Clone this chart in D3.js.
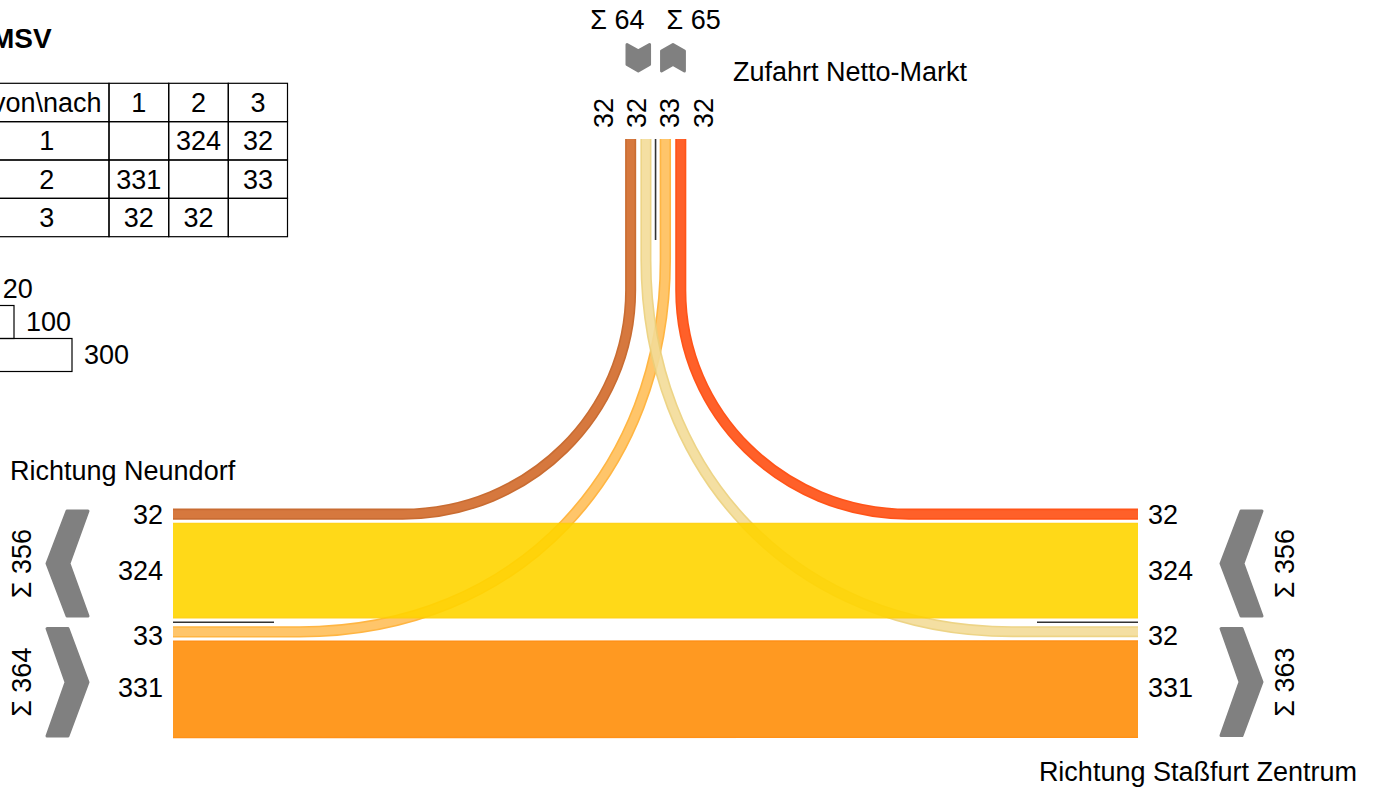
<!DOCTYPE html>
<html><head><meta charset="utf-8">
<script src="https://cdn.jsdelivr.net/npm/d3@7"></script>
<style>html,body{margin:0;padding:0;background:#fff;overflow:hidden}</style>
</head><body>
<svg id="c" width="1375" height="792"></svg>
<script>
// ---------------- data ----------------
const title = "MSV";
const nodes = ["1", "2", "3"];
const armNames = { "1": "Richtung Staßfurt Zentrum", "2": "Richtung Neundorf", "3": "Zufahrt Netto-Markt" };
// rows = von, cols = nach
const matrix = [
  [null, 324, 32],
  [331, null, 33],
  [32, 32, null]
];
const tableHeader = ["von\\nach", "1", "2", "3"];
const legendValues = [20, 100, 300];

// ---------------- style ----------------
const flowStyle = {
  "1-2": { fill: "#ffd500", edge: "#ffcf00" },
  "2-1": { fill: "#ff8f0a", edge: "#ff8600" },
  "1-3": { fill: "#ff4f12", edge: "#ff4200" },
  "3-1": { fill: "#f3dc98", edge: "#ecd07a" },
  "2-3": { fill: "#ffbf5a", edge: "#ffae2e" },
  "3-2": { fill: "#d26a2a", edge: "#c45d1c" }
};
const FONT = "'Liberation Sans', Arial, sans-serif";
const FS = 27;
const GRAY = "#808080";

const svg = d3.select("#c");
const w = d3.scaleLinear().domain([0, 300]).range([0, 87]);
const val = (a, b) => matrix[nodes.indexOf(a)][nodes.indexOf(b)];

// lane order of each arm (groups split by direction)
const arms = {
  left:  { node: "2", groups: [[["3","2"],["1","2"]], [["2","3"],["2","1"]]], start: 509.5, gap: 4.8, sep: 9.5 },
  right: { node: "1", groups: [[["1","3"],["1","2"]], [["3","1"],["2","1"]]], start: 509.5, gap: 4.8, sep: 9.5 },
  top:   { node: "3", groups: [[["3","2"],["3","1"]], [["2","3"],["1","3"]]], start: 626, gap: 6, sep: 10 }
};
function layoutLanes(arm) {
  let pos = arm.start; const lanes = {}; const ext = [];
  arm.groups.forEach((g, gi) => {
    if (gi > 0) pos += arm.sep;
    const g0 = pos;
    g.forEach((f, i) => {
      if (i > 0) pos += arm.gap;
      const v = val(f[0], f[1]); const ww = w(v);
      lanes[f.join("-")] = { a: pos, w: ww, c: pos + ww / 2, v, group: gi };
      pos += ww;
    });
    ext.push([g0, pos]);
  });
  arm.lanes = lanes; arm.ext = ext;
  arm.sepPos = (ext[0][1] + ext[1][0]) / 2;
}
Object.values(arms).forEach(layoutLanes);

const X_LEFT = 173, X_RIGHT = 1138, Y_TOP = 139;

// ---------------- flows ----------------
function turnPath(xs, ys, xt, near) {
  const dir = Math.sign(xt - xs);
  const p = d3.path();
  p.moveTo(xs, ys);
  if (near) {
    const rx = 228, ry = 224, k = 0.5523;
    const xh = xt - dir * rx, yv = ys - ry;
    p.lineTo(xh, ys);
    p.bezierCurveTo(xh + dir * rx * k, ys, xt, yv + ry * k, xt, yv);
  } else {
    const xh = xt - dir * 366, yv = ys - 372;
    p.lineTo(xh, ys);
    p.bezierCurveTo(xt - dir * 146, ys, xt, ys - 162, xt, yv);
  }
  p.lineTo(xt, Y_TOP);
  return p.toString();
}
function flowGeom(key) {
  const [a, b] = key.split("-");
  if (a !== "3" && b !== "3") {
    const L = arms.left.lanes[key], R = arms.right.lanes[key];
    return { d: `M${X_LEFT},${L.c}L${X_RIGHT},${R.c}`, w: L.w };
  }
  const side = (a === "2" || b === "2") ? "left" : "right";
  const sl = arms[side].lanes[key], tl = arms.top.lanes[key];
  const xs = side === "left" ? X_LEFT : X_RIGHT;
  return { d: turnPath(xs, sl.c, tl.c, sl.group === 0), w: sl.w };
}
const drawOrder = ["2-3", "3-1", "3-2", "1-3", "2-1", "1-2"];
const flowG = svg.append("g");
drawOrder.forEach(key => {
  const g = flowG.append("g").attr("opacity", 0.9);
  const geo = flowGeom(key);
  g.append("path").attr("d", geo.d).attr("fill", "none")
    .attr("stroke", flowStyle[key].edge).attr("stroke-width", geo.w + 1.8);
  g.append("path").attr("d", geo.d).attr("fill", "none")
    .attr("stroke", flowStyle[key].fill).attr("stroke-width", Math.max(1, geo.w - 1.4));
});

// separators
const sepColor = "#333";
svg.append("line").attr("x1", arms.top.sepPos).attr("x2", arms.top.sepPos)
  .attr("y1", Y_TOP).attr("y2", Y_TOP + 101).attr("stroke", sepColor).attr("stroke-width", 1.6);
svg.append("line").attr("x1", X_LEFT).attr("x2", X_LEFT + 101)
  .attr("y1", arms.left.sepPos).attr("y2", arms.left.sepPos).attr("stroke", sepColor).attr("stroke-width", 1.6);
svg.append("line").attr("x1", X_RIGHT - 101).attr("x2", X_RIGHT)
  .attr("y1", arms.right.sepPos).attr("y2", arms.right.sepPos).attr("stroke", sepColor).attr("stroke-width", 1.6);

// ---------------- chevrons ----------------
const chevLine = d3.line();
function drawPoly(pts) {
  svg.append("path").attr("d", chevLine(pts) + "Z").attr("fill", GRAY)
    .attr("stroke", GRAY).attr("stroke-width", 3).attr("stroke-linejoin", "round");
}
function sideChevron(xL, y0, y1, pointLeft) {
  const t = 21, d = 20, xR = xL + t + d, ym = (y0 + y1) / 2;
  y0 += 1.5; y1 -= 1.5;
  if (pointLeft) drawPoly([[xR - t, y0], [xR, y0], [xR - d + 1, ym], [xR, y1], [xR - t, y1], [xL, ym]]);
  else drawPoly([[xL, y0], [xL + t, y0], [xR, ym], [xL + t, y1], [xL, y1], [xL + d - 1, ym]]);
}
function topChevron(x0, x1, down) {
  const yA = 44.5, t = 20, xm = (x0 + x1) / 2, d = Math.min(21, (x1 - x0) / 2 * 0.52);
  x0 += 1; x1 -= 1;
  if (down) drawPoly([[x0, yA], [xm, yA + d], [x1, yA], [x1, yA + t], [xm, yA + t + d], [x0, yA + t]]);
  else drawPoly([[x0, yA + d], [xm, yA], [x1, yA + d], [x1, yA + t + d], [xm, yA + t], [x0, yA + t + d]]);
}
const chevW = 43, chevOff = 83;
arms.left.ext.forEach((e, i) => sideChevron(X_LEFT - chevOff - chevW, e[0], e[1], i === 0));
arms.right.ext.forEach((e, i) => sideChevron(X_RIGHT + chevOff, e[0], e[1], i === 0));
arms.top.ext.forEach((e, i) => topChevron(e[0], e[1], i === 0));

// ---------------- labels ----------------
function txt(x, y, s, anchor, opts = {}) {
  const t = svg.append("text").attr("x", x).attr("y", y).attr("dy", "0.35em")
    .attr("text-anchor", anchor || "start").attr("font-family", FONT)
    .attr("font-size", opts.size || FS).attr("fill", "#000").text(s);
  if (opts.bold) t.attr("font-weight", "bold");
  if (opts.rotate) t.attr("transform", `rotate(-90,${x},${y})`);
  return t;
}
function spread(vals, gap) {
  let cl = vals.map(v => ({ s: v, n: 1 }));
  const st = c => c.s / c.n - (c.n - 1) * gap / 2;
  let changed = true;
  while (changed) {
    changed = false;
    for (let i = 0; i < cl.length - 1; i++) {
      if (st(cl[i + 1]) < st(cl[i]) + cl[i].n * gap) {
        cl[i].s += cl[i + 1].s; cl[i].n += cl[i + 1].n; cl.splice(i + 1, 1); changed = true; break;
      }
    }
  }
  const r = []; cl.forEach(c => { for (let k = 0; k < c.n; k++) r.push(st(c) + k * gap); });
  return r;
}
const sumGroup = (arm, gi) => arm.groups[gi].reduce((s, f) => s + val(f[0], f[1]), 0);

// side lane values
["left", "right"].forEach(side => {
  const arm = arms[side];
  const ls = Object.values(arm.lanes).sort((a, b) => a.c - b.c);
  const ys = spread(ls.map(l => l.c), 50);
  ls.forEach((l, i) => {
    // small lane labels of the lower group sit slightly lower in the reference
    const adj = (l.group === 1 ? (l.v < 100 ? 4 : -2) : 0);
    if (side === "left") txt(X_LEFT - 10, ys[i] + adj, String(l.v), "end");
    else txt(X_RIGHT + 10, ys[i] + adj, String(l.v), "start");
  });
  arm.ext.forEach((e, gi) => {
    const x = side === "left" ? X_LEFT - chevOff - chevW - 25 : X_RIGHT + chevOff + chevW + 21;
    txt(x, (e[0] + e[1]) / 2, "Σ " + sumGroup(arm, gi), "middle", { rotate: true });
  });
});
// top lane values
{
  const arm = arms.top;
  const ls = Object.values(arm.lanes).sort((a, b) => a.c - b.c);
  const xs = spread(ls.map(l => l.c), 33.3);
  ls.forEach((l, i) => txt(xs[i] - 2.5, 128, String(l.v), "start", { rotate: true }));
  txt(arm.sepPos - 11, 20, "Σ " + sumGroup(arm, 0), "end");
  txt(arm.sepPos + 11, 20, "Σ " + sumGroup(arm, 1), "start");
}
// arm names
txt(10, 471, armNames["2"], "start");
txt(733, 72, armNames["3"], "start");
txt(1357, 772, armNames["1"], "end");

// title
txt(-9, 38, title, "start", { bold: true, size: 28 });

// ---------------- table ----------------
const colEdges = [-15.6, 109, 168.7, 228.3, 287.5];
const rowY = d3.scaleLinear().domain([0, 4]).range([83.3, 236.7]);
const tg = svg.append("g");
for (let r = 0; r < 4; r++) {
  for (let c = 0; c < 4; c++) {
    const x0 = colEdges[c], x1 = colEdges[c + 1], y0 = rowY(r), y1 = rowY(r + 1);
    tg.append("rect").attr("x", x0).attr("y", y0).attr("width", x1 - x0).attr("height", y1 - y0)
      .attr("fill", "none").attr("stroke", "#000").attr("stroke-width", 1.2);
    let s = "";
    if (r === 0) s = tableHeader[c];
    else if (c === 0) s = nodes[r - 1];
    else { const v = matrix[r - 1][c - 1]; s = v == null ? "" : String(v); }
    if (s) txt((x0 + x1) / 2, (y0 + y1) / 2, s, "middle");
  }
}

// ---------------- legend ----------------
const legX = -15, legY0 = 272.5, legH = 33;
legendValues.forEach((v, i) => {
  const y = legY0 + i * legH;
  svg.append("rect").attr("x", legX).attr("y", y).attr("width", w(v)).attr("height", legH)
    .attr("fill", "none").attr("stroke", "#000").attr("stroke-width", 1.2);
  txt(legX + w(v) + 12, y + legH / 2, String(v), "start");
});
</script>
</body></html>
